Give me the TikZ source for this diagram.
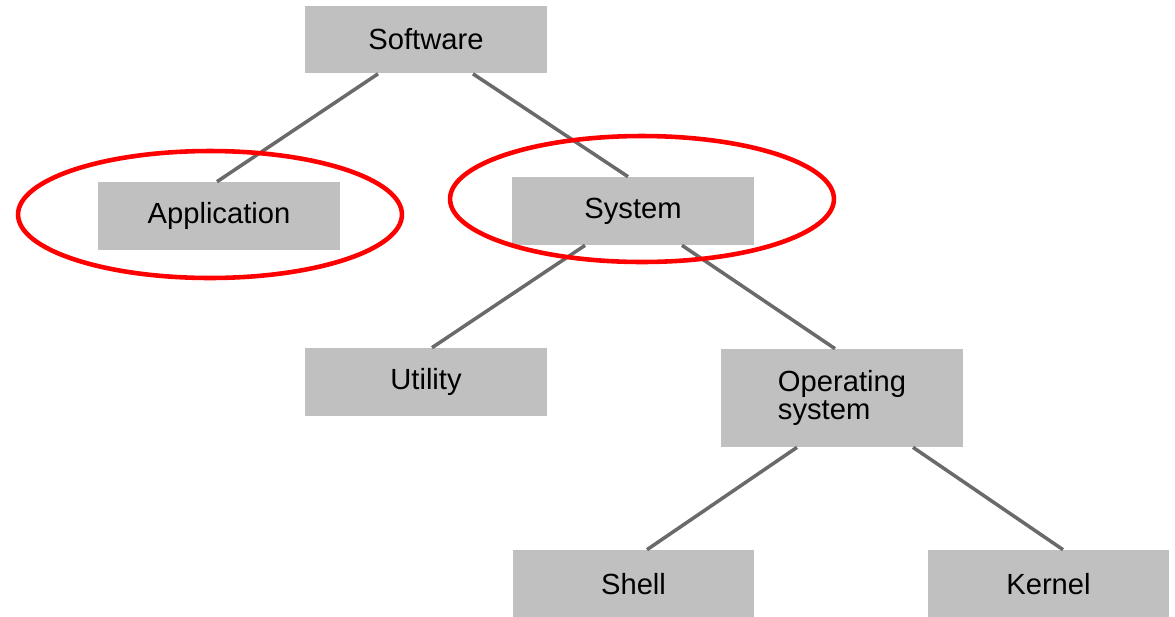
\documentclass[tikz,border=0pt]{standalone}
\usepackage{fontspec}
\setmainfont{Liberation Sans}
\usetikzlibrary{calc}
\definecolor{boxgray}{RGB}{192,192,192}
\definecolor{edgegray}{RGB}{106,106,106}
\begin{document}
\begin{tikzpicture}[x=0.02cm, y=-0.02cm, greybox/.style={rectangle, fill=boxgray, inner sep=0pt, minimum width=4.84cm, minimum height=1.36cm, font=\fontsize{16.6}{16}\selectfont}, edge/.style={line width=2pt, color=edgegray}, ring/.style={line width=2.6pt, color=red}]
\useasboundingbox (0,0) rectangle (1175,616);
\node[greybox] at (426, 39.5) (software) {Software};
\node[greybox] at (219, 216) (app) {Application};
\node[greybox] at (633, 211) (system) {System};
\node[greybox] at (426, 382) (utility) {Utility};
\node[greybox, minimum height=1.96cm, align=left] at (842, 398) (os) {Operating\\system};
\node[greybox] at (633.5, 584) (shell) {Shell};
\node[greybox] at (1048.5, 584) (kernel) {Kernel};
\draw[edge] ($(software.south)+(-48,0)$) -- ($(app.north)+(-2,0)$);
\draw[edge] ($(software.south)+(47,0)$) -- ($(system.north)+(-5,0)$);
\draw[edge] ($(system.south)+(-48,0)$) -- ($(utility.north)+(6,0)$);
\draw[edge] ($(system.south)+(49,0)$) -- ($(os.north)+(-7,0)$);
\draw[edge] ($(os.south)+(-45,0)$) -- ($(shell.north)+(13.5,0)$);
\draw[edge] ($(os.south)+(71,0)$) -- ($(kernel.north)+(14.5,0)$);
\draw[ring] ($(app.center)+(-9,-1.5)$) ellipse [x radius=3.84cm, y radius=1.27cm];
\draw[ring] ($(system.center)+(9,-12)$) ellipse [x radius=3.84cm, y radius=1.26cm];
\end{tikzpicture}
\end{document}
